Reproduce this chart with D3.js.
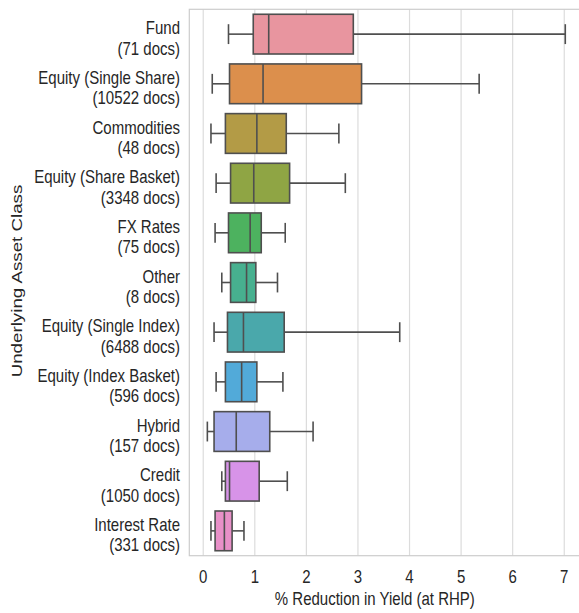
<!DOCTYPE html>
<html>
<head>
<meta charset="utf-8">
<script src="https://cdn.jsdelivr.net/npm/d3@7"></script>
<style>
  html, body { margin: 0; padding: 0; background: #fff; }
  svg text { font-family: "Liberation Sans", Arial, sans-serif; fill: #262626; }
</style>
</head>
<body>
<svg id="chart" width="579" height="613"></svg>
<script>
const categories = ["Fund", "Equity (Single Share)", "Commodities", "Equity (Share Basket)", "FX Rates", "Other",
  "Equity (Single Index)", "Equity (Index Basket)", "Hybrid", "Credit", "Interest Rate"];
const docCounts = [71, 10522, 48, 3348, 75, 8, 6488, 596, 157, 1050, 331];
const whiskerLow = [0.49, 0.175, 0.15, 0.25, 0.23, 0.36, 0.21, 0.25, 0.08, 0.36, 0.15];
const q1 = [0.97, 0.51, 0.43, 0.53, 0.49, 0.53, 0.47, 0.43, 0.21, 0.43, 0.23];
const median = [1.27, 1.16, 1.04, 0.98, 0.91, 0.84, 0.78, 0.745, 0.64, 0.51, 0.41];
const q3 = [2.91, 3.07, 1.61, 1.675, 1.125, 1.02, 1.57, 1.04, 1.29, 1.085, 0.56];
const whiskerHigh = [7.02, 5.35, 2.63, 2.755, 1.59, 1.44, 3.81, 1.545, 2.13, 1.63, 0.79];
const colors = ["#e8959f", "#dc8f4c", "#b39b46", "#8fa544", "#4db25f", "#47b08f", "#4aa8ab", "#52aad9", "#a6adeb", "#d793e8", "#e890c8"];
const xTicks = [0, 1, 2, 3, 4, 5, 6, 7];
const xLabel = "% Reduction in Yield (at RHP)";
const yLabel = "Underlying Asset Class";

(function () {
const svg = d3.select("#chart");
const pLeft = 189.3, pTop = 9.3, pBottom = 555.7, pRight = 582.3;
const STRETCH = 1.25;

const x = d3.scaleLinear().domain([-0.27, 7.35]).range([pLeft, pRight]);
const y = d3.scaleBand().domain(categories).range([pTop, pBottom]).padding(0);
const bw = y.bandwidth() * 0.8;

// grid
svg.append("g").selectAll("line").data(xTicks).join("line")
  .attr("x1", d => x(d)).attr("x2", d => x(d))
  .attr("y1", pTop).attr("y2", pBottom)
  .attr("stroke", "#dcdcdc").attr("stroke-width", 1.2);

// frame
svg.append("rect").attr("x", pLeft).attr("y", pTop)
  .attr("width", pRight - pLeft).attr("height", pBottom - pTop)
  .attr("fill", "none").attr("stroke", "#cccccc").attr("stroke-width", 1.2);

const data = categories.map((c, i) => ({
  c, n: docCounts[i], lo: whiskerLow[i], q1: q1[i], med: median[i], q3: q3[i], hi: whiskerHigh[i], col: colors[i]
}));

const lineCol = "#4f4f4f", lw = 1.6;
const g = svg.append("g").selectAll("g").data(data).join("g")
  .attr("transform", d => `translate(0,${y(d.c) + y.bandwidth() / 2})`);

// whiskers
g.append("line").attr("x1", d => x(d.lo)).attr("x2", d => x(d.q1)).attr("y1", 0).attr("y2", 0)
  .attr("stroke", lineCol).attr("stroke-width", lw);
g.append("line").attr("x1", d => x(d.q3)).attr("x2", d => x(d.hi)).attr("y1", 0).attr("y2", 0)
  .attr("stroke", lineCol).attr("stroke-width", lw);
// caps
g.append("line").attr("x1", d => x(d.lo)).attr("x2", d => x(d.lo)).attr("y1", -bw / 4).attr("y2", bw / 4)
  .attr("stroke", lineCol).attr("stroke-width", lw);
g.append("line").attr("x1", d => x(d.hi)).attr("x2", d => x(d.hi)).attr("y1", -bw / 4).attr("y2", bw / 4)
  .attr("stroke", lineCol).attr("stroke-width", lw);
// boxes
g.append("rect").attr("x", d => x(d.q1)).attr("width", d => x(d.q3) - x(d.q1))
  .attr("y", -bw / 2).attr("height", bw)
  .attr("fill", d => d.col).attr("stroke", lineCol).attr("stroke-width", lw);
// median
g.append("line").attr("x1", d => x(d.med)).attr("x2", d => x(d.med)).attr("y1", -bw / 2).attr("y2", bw / 2)
  .attr("stroke", lineCol).attr("stroke-width", lw);

// y tick labels
const yl = svg.append("g").selectAll("g").data(data).join("g")
  .attr("transform", d => `translate(180,${y(d.c) + y.bandwidth() / 2})`);
yl.append("text").attr("text-anchor", "end").attr("font-size", 15)
  .attr("transform", `translate(0,0.2) scale(1,${STRETCH})`).text(d => d.c);
yl.append("text").attr("text-anchor", "end").attr("font-size", 15)
  .attr("transform", `translate(0,20.5) scale(1,${STRETCH})`).text(d => `(${d.n} docs)`);

// x tick labels
svg.append("g").selectAll("text").data(xTicks).join("text")
  .attr("text-anchor", "middle").attr("font-size", 15)
  .attr("transform", d => `translate(${x(d)},583) scale(1,${STRETCH})`)
  .text(d => d);

// axis titles
svg.append("text").attr("text-anchor", "middle").attr("font-size", 15)
  .attr("transform", `translate(${(pLeft + 564.3) / 2 - 2},605) scale(1,${STRETCH})`)
  .text(xLabel);
svg.append("text").attr("text-anchor", "middle").attr("font-size", 15)
  .attr("transform", `translate(22,281) scale(1,${STRETCH}) rotate(-90)`)
  .text(yLabel);
})();
</script>
</body>
</html>
